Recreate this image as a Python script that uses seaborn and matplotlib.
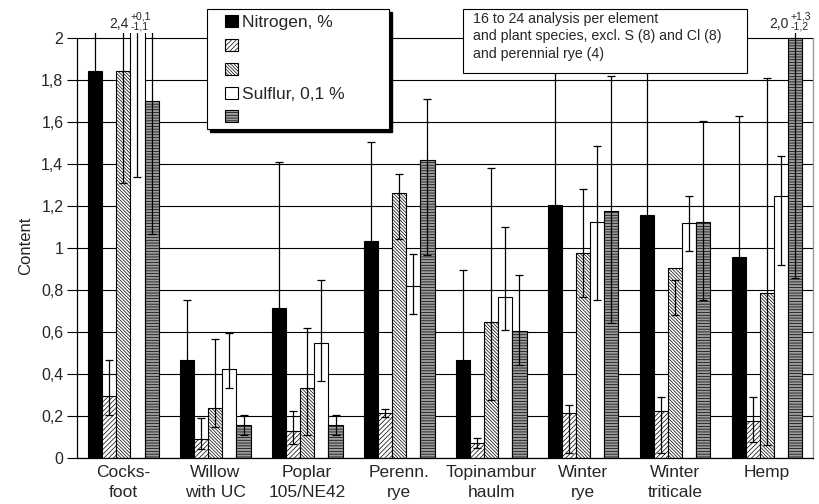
import matplotlib
matplotlib.use("Agg")
import matplotlib.pyplot as plt
from matplotlib.patches import Rectangle, Patch
import numpy as np
import pandas as pd
import seaborn as sns

# ---------------- data ----------------
categories = ["Cocks-\nfoot", "Willow\nwith UC", "Poplar\n105/NE42", "Perenn.\nrye",
              "Topinambur\nhaulm", "Winter\nrye", "Winter\ntriticale", "Hemp"]
series_ids = ["s1", "s2", "s3", "s4", "s5"]
series_labels = ["Nitrogen, %", "", "", "Sulflur, 0,1 %", ""]

nitrogen = [1.845, 0.468, 0.714, 1.034, 0.469, 1.206, 1.157, 0.960]
nitrogen_hi = [2.30, 0.755, 1.412, 1.507, 0.897, 2.30, 2.30, 1.630]
nitrogen_lo = [1.40, 0.200, 0.200, 0.550, 0.050, 0.600, 0.500, 0.300]

series2 = [0.297, 0.094, 0.130, 0.218, 0.072, 0.214, 0.227, 0.179]
series2_hi = [0.468, 0.190, 0.226, 0.237, 0.099, 0.254, 0.293, 0.294]
series2_lo = [0.205, 0.046, 0.067, 0.199, 0.051, 0.024, 0.024, 0.079]

series3 = [1.845, 0.239, 0.333, 1.265, 0.648, 0.979, 0.905, 0.786]
series3_hi = [2.30, 0.567, 0.619, 1.356, 1.384, 1.281, 0.850, 1.810]
series3_lo = [1.310, 0.150, 0.110, 1.045, 0.278, 0.770, 0.683, 0.064]

sulfur = [2.40, 0.425, 0.547, 0.822, 0.770, 1.127, 1.121, 1.250]
sulfur_hi = [2.50, 0.598, 0.849, 0.974, 1.101, 1.487, 1.250, 1.440]
sulfur_lo = [1.340, 0.336, 0.369, 0.687, 0.612, 0.754, 0.986, 0.920]

series5 = [1.703, 0.159, 0.159, 1.422, 0.605, 1.178, 1.124, 2.00]
series5_hi = [2.30, 0.205, 0.205, 1.709, 0.873, 1.820, 1.608, 3.30]
series5_lo = [1.068, 0.113, 0.113, 0.970, 0.444, 0.643, 0.754, 0.857]

yticks = [0, 0.2, 0.4, 0.6, 0.8, 1, 1.2, 1.4, 1.6, 1.8, 2]
ytick_labels = ["0", "0,2", "0,4", "0,6", "0,8", "1", "1,2", "1,4", "1,6", "1,8", "2"]

note_text = ("16 to 24 analysis per element\n"
             "and plant species, excl. S (8) and Cl (8)\n"
             "and perennial rye (4)")

values = [nitrogen, series2, series3, sulfur, series5]
highs = [nitrogen_hi, series2_hi, series3_hi, sulfur_hi, series5_hi]
lows = [nitrogen_lo, series2_lo, series3_lo, sulfur_lo, series5_lo]

rows = []
for sid, vals in zip(series_ids, values):
    for cat, v in zip(categories, vals):
        rows.append({"category": cat, "series": sid, "value": v})
df = pd.DataFrame(rows)

# ---------------- style ----------------
sns.set_theme(style="white")
plt.rcParams["font.family"] = ["Liberation Sans", "DejaVu Sans"]
plt.rcParams["hatch.linewidth"] = 0.5

faces = ["black", "white", "white", "white", "#9c9c9c"]
hatches = [None, "///////", "\\\\\\\\\\\\\\\\\\\\", None, "------"]

W, H = 819, 504
fig = plt.figure(figsize=(W / 100, H / 100), dpi=100)

def fx(px):
    return px / W

def fy(py):
    return 1 - py / H

ax_left, ax_right = 77.3, 813.0
ax_top, ax_bottom = 33.0, 458.3
ax = fig.add_axes([fx(ax_left), fy(ax_bottom), (ax_right - ax_left) / W, (ax_bottom - ax_top) / H])

sns.barplot(data=df, x="category", y="value", hue="series", hue_order=series_ids,
            order=categories, palette=faces, saturation=1, width=0.77, gap=0,
            errorbar=None, edgecolor="black", linewidth=0.8, legend=False, ax=ax)

bar_containers = list(ax.containers)
for i, cont in enumerate(bar_containers):
    for p in cont.patches:
        p.set_facecolor(faces[i])
        p.set_edgecolor("black")
        p.set_linewidth(0.8)
        if hatches[i]:
            p.set_hatch(hatches[i])
    xs = [p.get_x() + p.get_width() / 2 for p in cont.patches]
    lo = np.array(lows[i])
    hi = np.array(highs[i])
    ax.errorbar(xs, (lo + hi) / 2, yerr=(hi - lo) / 2, fmt="none", ecolor="black",
                elinewidth=0.9, capsize=3, capthick=0.9, zorder=4)

ax.set_xlim(-0.5, len(categories) - 0.5)
ax.set_ylim(0, 2.025)
ax.set_yticks(yticks)
ax.set_yticklabels(ytick_labels, fontsize=11.5)
ax.tick_params(axis="y", length=7, width=0.8, color="black", pad=3, left=True)
ax.set_xticks(range(len(categories)))
ax.set_xticklabels(categories, fontsize=12.5, linespacing=1.4)
ax.tick_params(axis="x", length=0, pad=5)
ax.set_xlabel("")
ax.set_ylabel("Content", fontsize=12)
ax.yaxis.set_label_coords(-0.06, 0.5)

ax.yaxis.grid(True, color="black", linewidth=0.8)
ax.xaxis.grid(False)
ax.set_axisbelow(True)
ax.spines["top"].set_visible(False)
ax.spines["left"].set_bounds(0, 2)
ax.spines["left"].set_color("black")
ax.spines["left"].set_linewidth(0.9)
ax.spines["bottom"].set_color("black")
ax.spines["bottom"].set_linewidth(0.9)
ax.spines["right"].set_bounds(0, 2)
ax.spines["right"].set_color("#999999")
ax.spines["right"].set_linewidth(1.0)

# ---------------- legend box ----------------
lx0, ly0, lx1, ly1 = 207, 9, 389, 129
fig.add_artist(Rectangle((fx(lx0 + 3), fy(ly1 + 3)), (lx1 - lx0) / W, (ly1 - ly0) / H,
                         transform=fig.transFigure, facecolor="black", edgecolor="black",
                         zorder=2))
fig.add_artist(Rectangle((fx(lx0), fy(ly1)), (lx1 - lx0) / W, (ly1 - ly0) / H,
                         transform=fig.transFigure, facecolor="white", edgecolor="black",
                         linewidth=0.8, zorder=3))
handles = [Patch(facecolor=faces[i], edgecolor="black", hatch=hatches[i], linewidth=0.8)
           for i in range(5)]
fig.legend(handles, series_labels, loc="upper left", bbox_to_anchor=(fx(225), fy(15)),
           frameon=False, fontsize=12.5, handlelength=0.75, handleheight=0.7,
           handletextpad=0.25, labelspacing=0.5, borderpad=0, borderaxespad=0)

# ---------------- note box ----------------
nx0, ny0, nx1, ny1 = 463, 9, 747, 73
fig.add_artist(Rectangle((fx(nx0), fy(ny1)), (nx1 - nx0) / W, (ny1 - ny0) / H,
                         transform=fig.transFigure, facecolor="white", edgecolor="black",
                         linewidth=0.8, zorder=3))
fig.text(fx(473), fy(12), note_text, ha="left", va="top", fontsize=10.2, linespacing=1.3,
         zorder=4)

# ---------------- off-scale annotations ----------------
def offscale(x_end, main, sup, sub):
    fig.text(fx(x_end), fy(28.3), main, ha="right", va="baseline", fontsize=10)
    fig.text(fx(x_end + 1.5), fy(19.5), sup, ha="left", va="baseline", fontsize=7.5)
    fig.text(fx(x_end + 1.5), fy(29.5), sub, ha="left", va="baseline", fontsize=7.5)

offscale(129, "2,4", "+0,1", "-1,1")
offscale(789, "2,0", "+1,3", "-1,2")

fig.savefig("out.png", dpi=100)
